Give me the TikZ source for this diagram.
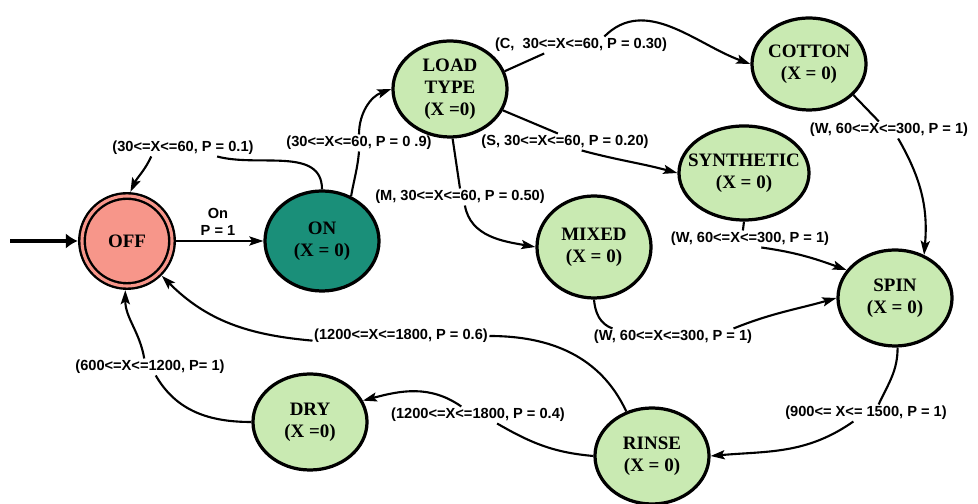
\documentclass[tikz,border=0pt]{standalone}
\usepackage{fontspec}
\setmainfont{Liberation Serif}
\setsansfont{Liberation Sans}
\usepackage{tikz}
\usetikzlibrary{arrows.meta,positioning,shapes.geometric}
\definecolor{offred}{HTML}{F7968A}
\definecolor{onteal}{HTML}{1A8F79}
\definecolor{stgreen}{HTML}{C9EAB2}

\begin{document}
\begin{tikzpicture}[x=0.025cm, y=0.025cm,
  state/.style={draw, ellipse, line width=2.3pt, fill=stgreen, minimum width=2.85cm, minimum height=2.4cm, inner xsep=-20pt, inner ysep=-4pt, align=center, font=\fontsize{13.5}{15.5}\selectfont\bfseries},
  offstate/.style={draw, circle, line width=1.7pt, double=offred, double distance=2.2pt, fill=offred, minimum size=2.25cm, inner sep=0pt, outer sep=3pt, font=\fontsize{13.5}{15.5}\selectfont\bfseries},
  trans/.style={inner sep=1pt, align=center, font=\sffamily\bfseries\fontsize{10.4}{12}\selectfont},
  link/.style={line width=1.5pt},
  arrow/.style={link, -{Stealth[length=10pt,width=6.5pt,inset=2pt]}},
  entry/.style={line width=3pt, -{Latex[length=8.5pt,width=11pt]}}
]
\useasboundingbox (0,0) rectangle (978,504);

\coordinate (start) at (10,263);
\node[offstate] (off) at (127,263) {OFF};
\node[state, fill=onteal, minimum height=2.5cm] (on) at (322,263) {ON\\(X = 0)};
\node[state] (load) at (450,415) {LOAD\\TYPE\\(X =0)};
\node[state, minimum height=2.3cm] (cotton) at (809,440) {COTTON\\(X = 0)};
\node[state, minimum width=3.25cm, minimum height=2.35cm] (syn) at (744,331) {SYNTHETIC\\(X = 0)};
\node[state, minimum height=2.55cm] (mixed) at (594,257) {MIXED\\(X = 0)};
\node[state] (spin) at (895,206) {SPIN\\(X = 0)};
\node[state] (rinse) at (652,48) {RINSE\\(X = 0)};
\node[state] (dry) at (310,82) {DRY\\(X =0)};

\node[trans] (l1) at (218,282) {On\\P = 1};
\node[trans] (l2) at (183,356) {(30<=X<=60, P = 0.1)};
\node[trans] (l3) at (359,361) {(30<=X<=60, P = 0 .9)};
\node[trans] (l4) at (581,459) {(C,\ \ 30<=X<=60, P = 0.30)};
\node[trans] (l5) at (565,362) {(S, 30<=X<=60, P = 0.20)};
\node[trans] (l6) at (460,307) {(M, 30<=X<=60, P = 0.50)};
\node[trans] (l7) at (889,374) {(W, 60<=X<=300, P = 1)};
\node[trans] (l8) at (750,265) {(W, 60<=X<=300, P = 1)};
\node[trans] (l9) at (673,167) {(W, 60<=X<=300, P = 1)};
\node[trans] (l10) at (866,91) {(900<= X<= 1500, P = 1)};
\node[trans] (l11) at (401,168) {(1200<=X<=1800, P = 0.6)};
\node[trans] (l12) at (478,89) {(1200<=X<=1800, P = 0.4)};
\node[trans] (l13) at (150,137) {(600<=X<=1200, P= 1)};

\draw[entry] (start) -- (off.west);
\draw[arrow] (off) -- (on);
\draw[link] (on.90) to[out=90, in=-15] (l2.-14);
\draw[arrow] (l2.-165) to[out=-115, in=65] (off.86);
\draw[link] (on.57) to[out=80, in=-95] (l3.south);
\draw[arrow] (l3.north) to[out=90, in=200] (load.west);
\draw[link] (load.18) -- (l4.-167);
\draw[arrow] (l4.20) to[out=45, in=160] (cotton.west);
\draw[link] (load.-22) -- (l5.130);
\draw[arrow] (l5.-27) to[out=-15, in=165] (syn.west);
\draw[link] (load.-87) -- (l6.north);
\draw[arrow] (l6.-60) to[out=-80, in=170] (mixed.west);
\draw[link] (cotton.-35) -- (l7.140);
\draw[arrow] (l7.-43) to[out=-60, in=85] (spin.56);
\draw[link] (syn.south) -- (l8.130);
\draw[arrow] (l8.-37) to[out=-8, in=160] (spin.150);
\draw[link] (mixed.south) to[out=-85, in=160] (l9.172);
\draw[arrow] (l9.8) to[out=22, in=196] (spin.west);
\draw[link] (spin.-87) to[out=-90, in=65] (l10.34);
\draw[arrow] (l10.-146) to[out=-145, in=5] (rinse.east);
\draw[link] (rinse.120) to[out=115, in=0] (l11.east);
\draw[arrow] (l11.-177) to[out=175, in=-45] (off.-45);
\draw[link] (rinse.west) to[out=175, in=-30] (l12.-24);
\draw[arrow] (l12.153) to[out=145, in=15] (dry.22);
\draw[link] (dry.west) to[out=180, in=-60] (l13.-56);
\draw[arrow] (l13.124) to[out=100, in=-90] (off.-92);
\end{tikzpicture}
\end{document}
